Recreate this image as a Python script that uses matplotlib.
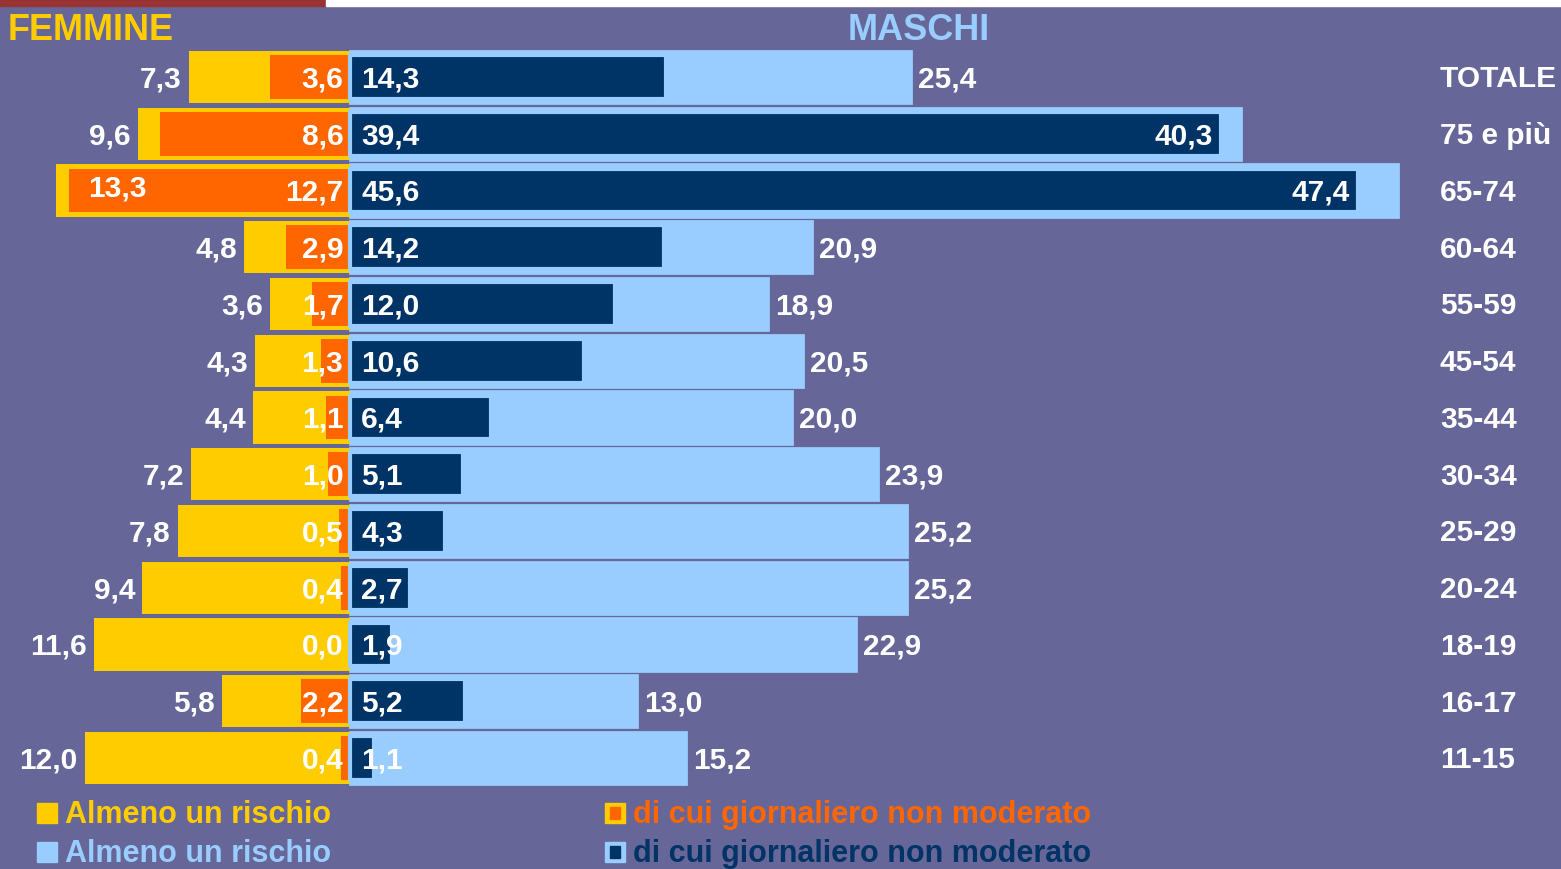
import matplotlib
matplotlib.use("Agg")
import matplotlib.pyplot as plt
from matplotlib.patches import Rectangle

categories = ["TOTALE", "75 e più", "65-74", "60-64", "55-59", "45-54", "35-44",
              "30-34", "25-29", "20-24", "18-19", "16-17", "11-15"]
f_any = [7.3, 9.6, 13.3, 4.8, 3.6, 4.3, 4.4, 7.2, 7.8, 9.4, 11.6, 5.8, 12.0]
f_daily = [3.6, 8.6, 12.7, 2.9, 1.7, 1.3, 1.1, 1.0, 0.5, 0.4, 0.0, 2.2, 0.4]
m_daily = [14.3, 39.4, 45.6, 14.2, 12.0, 10.6, 6.4, 5.1, 4.3, 2.7, 1.9, 5.2, 1.1]
m_any = [25.4, 40.3, 47.4, 20.9, 18.9, 20.5, 20.0, 23.9, 25.2, 25.2, 22.9, 13.0, 15.2]

BG = "#666699"
YEL = "#FFCC00"
ORA = "#FF6600"
LBL = "#99CCFF"
NAV = "#003366"

W, H = 1561, 869
fig = plt.figure(figsize=(W / 100, H / 100), dpi=100)
fig.patch.set_facecolor(BG)
ax = fig.add_axes([0, 0, 1, 1])
ax.set_facecolor(BG)
ax.axis("off")

scale = 22.1   # px per unit
x0 = 350       # zero position in px
ax.set_xlim(-x0 / scale, (W - x0) / scale)
y_top, step = 77, 56.75
ax.set_ylim((H - y_top) / step, -y_top / step)

def fmt(v):
    return f"{v:.1f}".replace(".", ",")

ys = list(range(len(categories)))
hb, hi = 0.92, 0.77
ax.barh(ys, m_any, height=hb, left=0, color=LBL, edgecolor=LBL, linewidth=2, zorder=1)
ax.barh(ys, [-v for v in f_any], height=hb, left=0, color=YEL, zorder=2)
ax.barh(ys, [-v for v in f_daily], height=hi, left=0, color=ORA, zorder=3)
ax.barh(ys, m_daily, height=hi, left=0, color=NAV, edgecolor=LBL, linewidth=3, zorder=3)

lab = dict(fontsize=21.5, fontweight="bold", color="white", va="center",
           family=["Liberation Sans", "DejaVu Sans"], zorder=5)
g = 7 / scale
dy = 0.04
for i, c in enumerate(categories):
    yy = i + dy
    if f_any[i] > 13:
        ax.text(-f_daily[i] + 0.85, yy - 0.08, fmt(f_any[i]), ha="left", **lab)
    else:
        ax.text(-f_any[i] - g, yy, fmt(f_any[i]), ha="right", **lab)
    ax.text(-0.3, yy, fmt(f_daily[i]), ha="right", **lab)
    ax.text(0.5, yy, fmt(m_daily[i]), ha="left", **lab)
    if m_any[i] > 40:
        ax.text(m_daily[i] - 0.35, yy, fmt(m_any[i]), ha="right", **lab)
    else:
        ax.text(m_any[i] + g, yy, fmt(m_any[i]), ha="left", **lab)
    ax.text((1440 - x0) / scale, yy, c, ha="left", **lab)

def fx(px):
    return px / W

def fy(py):
    return 1 - py / H

# top strip
fig.patches.append(Rectangle((0, fy(5.5)), fx(326), 5.5 / H, color="#993333",
                             transform=fig.transFigure, zorder=10))
fig.patches.append(Rectangle((fx(326), fy(5.5)), 1 - fx(326), 5.5 / H, color="white",
                             transform=fig.transFigure, zorder=10))

tit = dict(fontsize=26, fontweight="bold", va="center", ha="left",
           family=["Liberation Sans", "DejaVu Sans"])
fig.text(fx(8), fy(30), "FEMMINE", color=YEL, **tit)
fig.text(fx(848), fy(30), "MASCHI", color=LBL, **tit)

# legend
leg_font = dict(fontsize=22, fontweight="bold", va="center", ha="left",
                family=["Liberation Sans", "DejaVu Sans"])
entries = [
    (37, 813, YEL, None, "Almeno un rischio", YEL),
    (605, 813, YEL, ORA, "di cui giornaliero non moderato", ORA),
    (37, 852, LBL, None, "Almeno un rischio", LBL),
    (605, 852, LBL, NAV, "di cui giornaliero non moderato", NAV),
]
for (px, py, outer, inner, txt, tc) in entries:
    s = 20
    fig.patches.append(Rectangle((fx(px), fy(py + s / 2)), s / W, s / H, color=outer,
                                 transform=fig.transFigure))
    if inner:
        fig.patches.append(Rectangle((fx(px + 5), fy(py + s / 2 - 4)), 10 / W, 12 / H,
                                     color=inner, transform=fig.transFigure))
    fig.text(fx(px + 28), fy(py + 2), txt, color=tc, **leg_font)

fig.savefig("out.png", dpi=100, facecolor=BG)
